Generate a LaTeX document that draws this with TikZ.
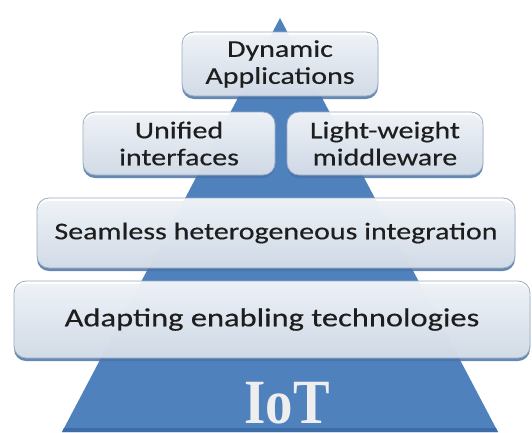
\documentclass[tikz,border=0pt]{standalone}
\usepackage{fontspec}
\setmainfont{Carlito}
\newfontfamily\boxfont[FakeStretch=1.25,FakeBold=0.4]{Carlito}
\newfontfamily\iotfont[FakeStretch=0.87]{Liberation Serif}
\usetikzlibrary{shadows}
\definecolor{iotblue}{HTML}{4F81BD}
\definecolor{iotdark}{HTML}{3D6CA6}
\definecolor{boxedge}{HTML}{98ABC2}
\definecolor{boxbottom}{HTML}{DDE4EC}
\definecolor{shadowblue}{HTML}{4A74A8}
\definecolor{textgray}{HTML}{1E1E1E}
\definecolor{iotwhite}{HTML}{EEEEEE}
\tikzset{
  layerbox/.style={rounded corners=12pt, draw=boxedge, line width=0.8pt,
    top color=white, bottom color=boxbottom, fill opacity=0.9, text opacity=1,
    draw opacity=1, inner sep=0pt, text=textgray, align=center,
    font=\boxfont\fontsize{24}{27}\selectfont,
    drop shadow={shadow xshift=0pt, shadow yshift=-3pt, fill=shadowblue, opacity=0.85}},
  iotlabel/.style={font=\iotfont\bfseries\fontsize{63}{63}\selectfont,
    text=iotwhite, inner sep=0pt, anchor=base}
}
\begin{document}
\begin{tikzpicture}[x=1pt,y=-1pt]
\useasboundingbox (0,0) rectangle (532,432);
% pyramid
\fill[iotblue] (280,18) -- (498,432) -- (62,432) -- cycle;
\fill[iotdark] (64.1,428) -- (495.9,428) -- (498,432) -- (62,432) -- cycle;
% layers
\node[layerbox, minimum width=196pt, minimum height=64pt] (dyn) at (280,64) {Dynamic\\Applications};
\node[layerbox, minimum width=192pt, minimum height=63pt] (uni) at (179,143.5) {Unified\\interfaces};
\node[layerbox, minimum width=196pt, minimum height=63pt] (lwm) at (385,143.5) {Light-weight\\middleware};
\node[layerbox, minimum width=478pt, minimum height=70pt] (shi) at (276,233) {Seamless heterogeneous integration};
\node[layerbox, minimum width=516pt, minimum height=77pt, font=\boxfont\fontsize{26}{30}\selectfont] (aet) at (272,319.5) {Adapting enabling technologies};
% label
\node[iotlabel] (iot) at (287,423) {IoT};
\end{tikzpicture}
\end{document}
